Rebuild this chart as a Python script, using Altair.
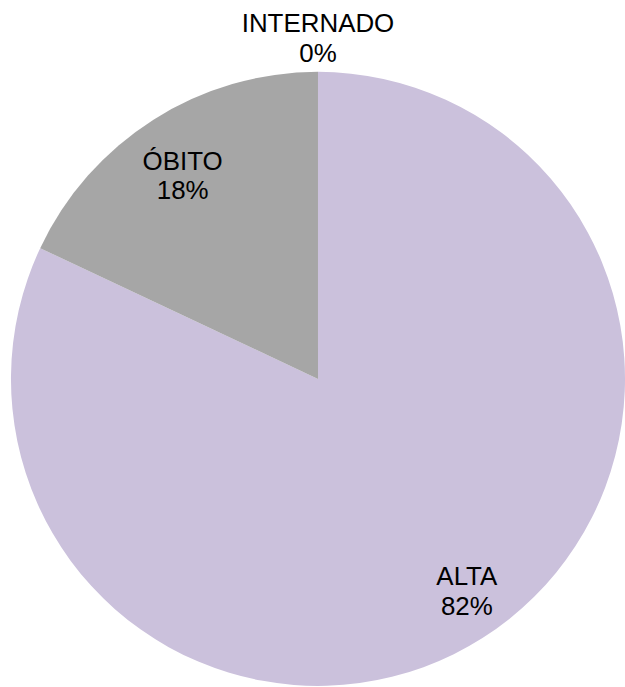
import altair as alt
import pandas as pd

categories = ["ALTA", "ÓBITO", "INTERNADO"]
values = [82, 18, 0]
colors = ["#CBC1DC", "#A6A6A6", "#A6A6A6"]

df = pd.DataFrame({"cat": categories, "val": values})
df["label"] = [f"{c}\n{v}%" for c, v in zip(categories, values)]
df["idx"] = range(len(df))

pie = alt.Chart(df).mark_arc(stroke=None).encode(
    theta=alt.Theta("val:Q", stack=True),
    order=alt.Order("idx:Q"),
    color=alt.Color("cat:N", scale=alt.Scale(domain=categories, range=colors), legend=None),
)

lbase = alt.Chart(df).transform_window(
    cum="sum(val)", sort=[alt.SortField("idx")], frame=[None, 0]
).transform_joinaggregate(
    total="sum(val)"
).transform_calculate(
    mid="(datum.cum - datum.val / 2) / datum.total"
)

def lbl(cat, r, dx, dy):
    return lbase.transform_filter(alt.datum.cat == cat).mark_text(
        radius=r, font="Liberation Sans", fontSize=26, lineBreak="\n",
        lineHeight=30, color="#000000", baseline="middle", align="center",
        dx=dx, dy=dy
    ).encode(
        theta=alt.Theta("mid:Q", scale=alt.Scale(domain=[0, 1]), stack=None),
        text="label:N",
    )

labels = alt.layer(
    lbl("ALTA", 260, 10, -21), lbl("ÓBITO", 244, -5, -12), lbl("INTERNADO", 341, 0, -15)
)

chart = alt.layer(pie, labels).resolve_scale(theta="independent").properties(
    width=616, height=616,
    padding={"left": 11, "top": 71, "right": 0, "bottom": 0},
    autosize=alt.AutoSizeParams(type="none"),
).configure_view(stroke=None).configure(background="white")

chart.save("out.html", embed_options={"renderer": "svg", "actions": False})
